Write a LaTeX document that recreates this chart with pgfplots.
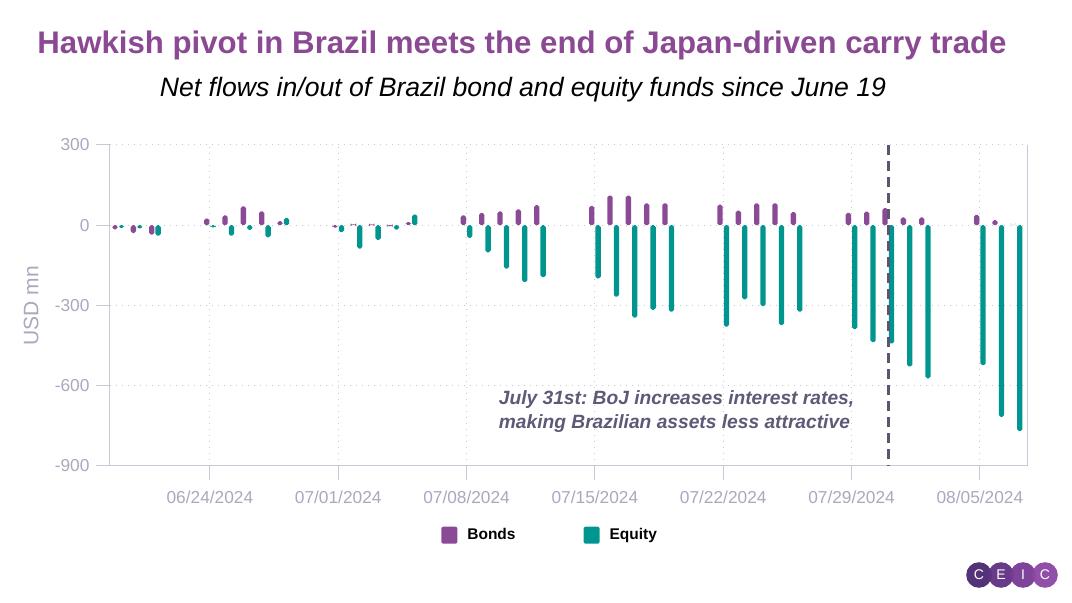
\documentclass[border=0pt]{standalone}
\usepackage{pgfplots}
\pgfplotsset{compat=1.18}
\usepackage{pgfplotstable}
\usepackage{fontspec}
\setmainfont{Liberation Sans}
\frenchspacing
\definecolor{titlepurple}{HTML}{8B4993}
\definecolor{bondc}{HTML}{8A4A96}
\definecolor{eqc}{HTML}{00968F}
\definecolor{axgray}{HTML}{C9C8D6}
\definecolor{gridgray}{HTML}{C8C8D2}
\definecolor{ticktext}{HTML}{A9A8BE}
\definecolor{annot}{HTML}{5C5A76}
\definecolor{dashc}{HTML}{5B5670}
\definecolor{logoA}{HTML}{4A2870}
\definecolor{logoB}{HTML}{5F2F84}
\definecolor{logoC}{HTML}{773A93}
\definecolor{logoD}{HTML}{8C46A3}

\pgfplotstableread{
x bonds equity
-5 -15 -10
-4 -29 -12
-3 -35 -39
0 25 -8
1 37 -39
2 71 -17
3 52 -45
4 15 27
7 -9 -26
8 3 -87
9 3 -55
10 -3 -16
11 12 40
14 37 -47
15 46 -101
16 52 -162
17 59 -212
18 75 -194
21 72 -199
22 111 -267
23 111 -345
24 82 -316
25 82 -323
28 77 -379
29 55 -277
30 82 -302
31 82 -373
32 49 -323
35 46 -388
36 51 -437
37 64 -442
38 29 -528
39 29 -572
42 39 -523
43 19 -716
44 0 -769
}\flows

\begin{document}
\begin{tikzpicture}[x=1pt,y=1pt]
\useasboundingbox (0,0) rectangle (1072,603);
\node[font=\fontsize{31.2}{34}\selectfont\bfseries, text=titlepurple] at (522,558) {Hawkish pivot in Brazil meets the end of Japan-driven carry trade};
\node[font=\fontsize{26.6}{30}\selectfont\itshape, text=black] at (523,513) {Net flows in/out of Brazil bond and equity funds since June 19};
\begin{axis}[
  at={(110pt,137pt)}, anchor=south west,
  scale only axis, width=917pt, height=321pt,
  xmin=-5.45, xmax=44.57, ymin=-900, ymax=300,
  axis x line*=bottom, axis y line*=left,
  axis line style={axgray, line width=1pt, -},
  xtick={0,7,14,21,28,35,42},
  xticklabels={06/24/2024,07/01/2024,07/08/2024,07/15/2024,07/22/2024,07/29/2024,08/05/2024},
  ytick={-900,-600,-300,0,300},
  tick align=outside, major tick length=14pt,
  tick style={axgray, line width=1pt},
  xmajorgrids, ymajorgrids,
  major grid style={gridgray, line width=1pt, dash pattern=on 1pt off 5pt},
  /pgf/number format/assume math mode=true,
  tick label style={font=\fontsize{17.3}{20}\selectfont, text=ticktext},
  xticklabel style={yshift=-7pt},
  yticklabel style={xshift=-3pt},
  ylabel={USD mn},
  ylabel style={font=\fontsize{21}{24}\selectfont, text=ticktext, at={(axis description cs:-0.074,0.5)}},
  ybar, bar width=5.3pt,
  legend style={at={(axis description cs:0.48,-0.215)}, anchor=center, draw=none, fill=none,
    font=\fontsize{15.5}{18}\selectfont\bfseries, legend columns=2,
    /tikz/every even column/.append style={column sep=66pt}},
  legend image code/.code={\fill[#1, rounded corners=2pt] (0pt,-9pt) rectangle (16pt,8pt); \path (24pt,0pt);},
  clip=false,
]
\draw[axgray, line width=1pt] (rel axis cs:1,0) -- (rel axis cs:1,1);
\addplot[fill=bondc, draw=none, bar shift=-3.2pt, rounded corners=1.8pt] table[x=x, y=bonds] {\flows};
\addlegendentry{Bonds}
\addplot[fill=eqc, draw=none, bar shift=3.2pt, rounded corners=1.8pt] table[x=x, y=equity] {\flows};
\addlegendentry{Equity}
\draw[dashc, line width=2.6pt, dash pattern=on 10pt off 6pt] (axis cs:37,300) -- (axis cs:37,-900);
\node[anchor=west, align=left, font=\fontsize{19.2}{24}\selectfont\bfseries\itshape, text=annot, inner xsep=0pt] at (axis cs:15.75,-695) {July 31st: BoJ increases interest rates,\\making Brazilian assets less attractive};
\end{axis}
\foreach \cx/\col in {979/logoA, 1001/logoB, 1023/logoC, 1045/logoD}{
  \fill[\col, opacity=0.95] (\cx,28) circle (12.8);
}
\foreach \cx/\l in {979/C, 1001/E, 1023/I, 1045/C}{
  \node[text=white, font=\fontsize{14}{16}\selectfont] at (\cx,28) {\l};
}
\end{tikzpicture}
\end{document}
